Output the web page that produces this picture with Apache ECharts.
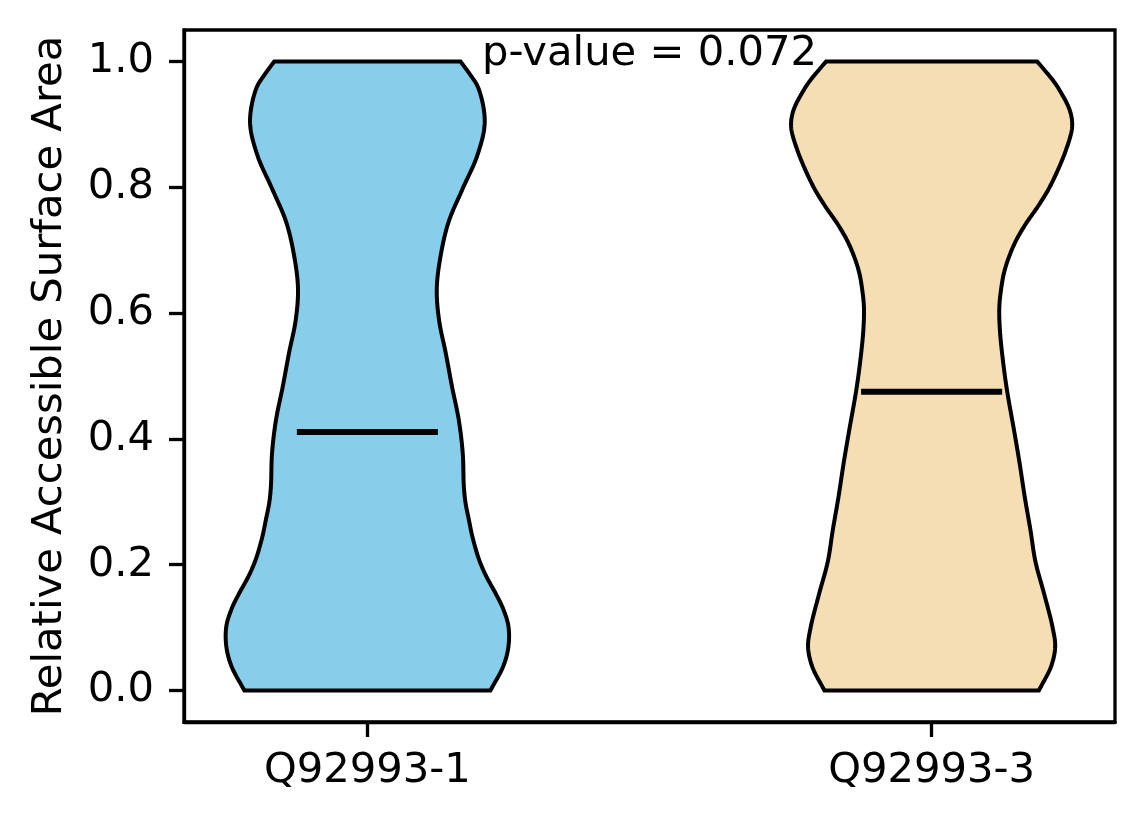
<!DOCTYPE html>
<html><head><meta charset="utf-8">
<script src="https://cdn.jsdelivr.net/npm/echarts@6/dist/echarts.min.js"></script>
<style>html,body{margin:0;padding:0;background:#fff}#c{width:1144px;height:824px}</style>
</head><body><div id="c"></div>
<script>
// ---- data ----
const categories = ['Q92993-1', 'Q92993-3'];
const positions = [1, 2];
const medians = [0.411, 0.475];
// violin 1: y levels and half-widths (x-axis units)
const v1Levels = [0.000, 0.039, 0.070, 0.102, 0.129, 0.155, 0.181, 0.208, 0.245, 0.271, 0.298, 0.324, 0.377, 0.430, 0.483, 0.536, 0.589, 0.639, 0.692, 0.745, 0.798, 0.851, 0.904, 0.957, 0.978, 1.000];
const v1HalfWidths = [0.218, 0.241, 0.250, 0.250, 0.241, 0.227, 0.211, 0.198, 0.186, 0.180, 0.174, 0.171, 0.169, 0.162, 0.150, 0.139, 0.127, 0.123, 0.130, 0.144, 0.169, 0.195, 0.208, 0.197, 0.183, 0.165];
// violin 2
const v2Levels = [0.000, 0.039, 0.070, 0.102, 0.155, 0.205, 0.256, 0.308, 0.361, 0.414, 0.475, 0.520, 0.573, 0.610, 0.637, 0.663, 0.689, 0.716, 0.742, 0.769, 0.795, 0.822, 0.859, 0.896, 0.922, 0.954, 0.970, 1.000];
const v2HalfWidths = [0.190, 0.212, 0.219, 0.214, 0.199, 0.184, 0.175, 0.165, 0.156, 0.146, 0.134, 0.127, 0.121, 0.120, 0.123, 0.128, 0.137, 0.150, 0.167, 0.188, 0.206, 0.221, 0.238, 0.249, 0.245, 0.227, 0.215, 0.187];
const yTicks = [0, 0.2, 0.4, 0.6, 0.8, 1.0];
const pValueText = 'p-value = 0.072';
const pValuePos = [1.5, 1.0];
const medianHalfLen = 0.125;

const violins = [
  { levels: v1Levels, hw: v1HalfWidths },
  { levels: v2Levels, hw: v2HalfWidths }
];
const fills = ['#87CEEB', '#F5DEB3'];
const FONT = '"DejaVu Sans", sans-serif';
const FS = 41.7;

// centripetal Catmull-Rom through pixel points
function smoothPts(pts, n) {
  const N = pts.length;
  const ext = [
    [2 * pts[0][0] - pts[1][0], 2 * pts[0][1] - pts[1][1]],
    ...pts,
    [2 * pts[N - 1][0] - pts[N - 2][0], 2 * pts[N - 1][1] - pts[N - 2][1]]
  ];
  const d = (a, b) => Math.pow(Math.hypot(b[0] - a[0], b[1] - a[1]), 0.5) || 1e-6;
  const lerp = (a, b, ta, tb, t) => {
    const w = (t - ta) / (tb - ta);
    return [a[0] + (b[0] - a[0]) * w, a[1] + (b[1] - a[1]) * w];
  };
  const out = [];
  for (let i = 1; i < ext.length - 2; i++) {
    const P0 = ext[i - 1], P1 = ext[i], P2 = ext[i + 1], P3 = ext[i + 2];
    const t0 = 0, t1 = t0 + d(P0, P1), t2 = t1 + d(P1, P2), t3 = t2 + d(P2, P3);
    for (let k = 0; k < n; k++) {
      const t = t1 + (t2 - t1) * k / n;
      const A1 = lerp(P0, P1, t0, t1, t), A2 = lerp(P1, P2, t1, t2, t), A3 = lerp(P2, P3, t2, t3, t);
      const B1 = lerp(A1, A2, t0, t2, t), B2 = lerp(A2, A3, t1, t3, t);
      out.push(lerp(B1, B2, t1, t2, t));
    }
  }
  out.push(pts[N - 1]);
  return out;
}

const chart = echarts.init(document.getElementById('c'), null, { renderer: 'canvas' });
chart.setOption({
  animation: false,
  backgroundColor: '#fff',
  grid: { left: 184, right: 29, top: 30, bottom: 102, show: true, borderColor: '#000', borderWidth: 3.3, outerBoundsMode: 'none' },
  xAxis: {
    type: 'value', min: 0.675, max: 2.325,
    splitLine: { show: false },
    axisLine: { show: true, onZero: false, lineStyle: { color: '#000', width: 3.3 } },
    axisTick: { show: true, customValues: positions, length: 15, lineStyle: { color: '#000', width: 3.3 } },
    axisLabel: {
      customValues: positions, margin: 28, color: '#000', fontSize: FS, fontFamily: FONT,
      formatter: v => categories[positions.indexOf(Math.round(v))] || ''
    }
  },
  yAxis: {
    type: 'value', min: -0.05, max: 1.05,
    name: 'Relative Accessible Surface Area', nameLocation: 'middle', nameGap: 113,
    nameTextStyle: { color: '#000', fontSize: FS, fontFamily: FONT },
    splitLine: { show: false },
    axisLine: { show: true, onZero: false, lineStyle: { color: '#000', width: 3.3 } },
    axisTick: { show: true, customValues: yTicks, length: 15, lineStyle: { color: '#000', width: 3.3 } },
    axisLabel: { customValues: yTicks, margin: 30, color: '#000', fontSize: FS, fontFamily: FONT, formatter: v => v.toFixed(1) }
  },
  series: [
    {
      type: 'custom',
      data: positions.map((p, i) => [p, medians[i]]),
      encode: { x: 0, y: 1 },
      renderItem: function (params, api) {
        const i = params.dataIndex;
        const pos = api.value(0), med = api.value(1);
        const v = violins[i];
        const left = v.levels.map((y, j) => api.coord([pos - v.hw[j], y]));
        const right = v.levels.map((y, j) => api.coord([pos + v.hw[j], y])).reverse();
        const pts = smoothPts(left, 16).concat(smoothPts(right, 16));
        const m0 = api.coord([pos - medianHalfLen, med]);
        const m1 = api.coord([pos + medianHalfLen, med]);
        return {
          type: 'group',
          children: [
            { type: 'polygon', shape: { points: pts }, style: { fill: fills[i], stroke: '#000', lineWidth: 4, lineJoin: 'miter' } },
            { type: 'line', shape: { x1: m0[0], y1: m0[1], x2: m1[0], y2: m1[1] }, style: { stroke: '#000', lineWidth: 6 } }
          ]
        };
      }
    },
    {
      type: 'custom',
      data: [pValuePos],
      encode: { x: 0, y: 1 },
      z: 5,
      renderItem: function (params, api) {
        const pt = api.coord([api.value(0), api.value(1)]);
        return {
          type: 'text', x: pt[0], y: pt[1] - 7,
          style: { text: pValueText, fill: '#000', fontSize: FS, fontFamily: FONT, align: 'center', verticalAlign: 'middle' }
        };
      }
    }
  ]
});
</script></body></html>
